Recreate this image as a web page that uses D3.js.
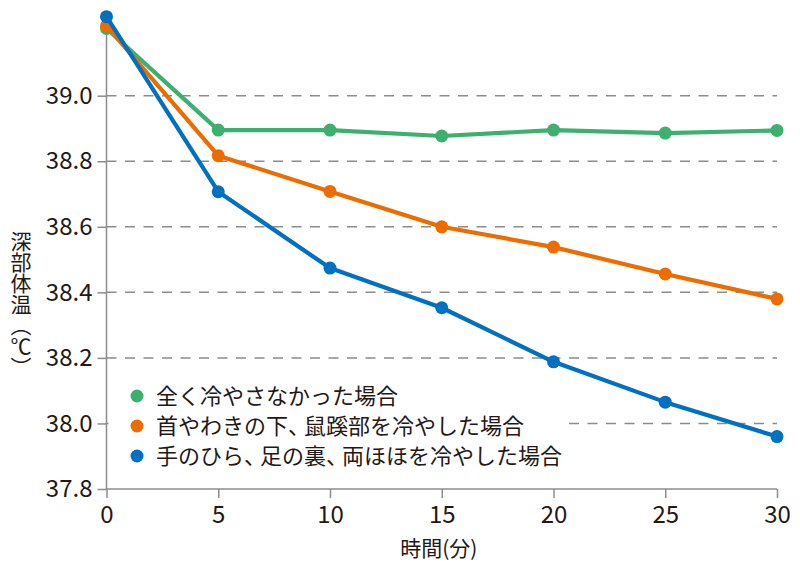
<!DOCTYPE html>
<html><head><meta charset="utf-8">
<script src="https://cdn.jsdelivr.net/npm/d3@7"></script>
<style>
html,body{margin:0;padding:0;background:#fff;}
svg{display:block;}
text{font-family:"Noto Sans CJK JP","Noto Sans",sans-serif;fill:#231815;}
</style></head>
<body><svg id="c" width="800" height="568"></svg>
<script>
const times = [0, 5, 10, 15, 20, 25, 30];
const seriesNames = ["全く冷やさなかった場合", "首やわきの下、鼠蹊部を冷やした場合", "手のひら、足の裏、両ほほを冷やした場合"];
const noCooling = [39.205, 38.895, 38.895, 38.877, 38.895, 38.886, 38.894];
const neckArmpitGroin = [39.213, 38.817, 38.708, 38.600, 38.538, 38.456, 38.380];
const palmsSolesCheeks = [39.241, 38.707, 38.474, 38.353, 38.188, 38.065, 37.960];
const colors = ["#3daf6e", "#ec6c00", "#0070c0"];
const yTicks = [37.8, 38.0, 38.2, 38.4, 38.6, 38.8, 39.0];
const xTicks = [0, 5, 10, 15, 20, 25, 30];
const xTitle = "時間(分)";
const yTitle = "深部体温（℃）";

const svg = d3.select("#c");
const x = d3.scaleLinear().domain([0, 30]).range([106.5, 777]);
const y = d3.scaleLinear().domain([37.8, 39.0]).range([489, 95.7]);
const axisColor = "#8c8c8c";

// gridlines
svg.append("g").selectAll("line").data(yTicks.filter(d => d > 37.8)).join("line")
  .attr("x1", x(0)).attr("x2", x(30))
  .attr("y1", d => y(d)).attr("y2", d => y(d))
  .attr("stroke", "#8c8c8c").attr("stroke-width", 1.5)
  .attr("stroke-dasharray", "10,8.5");

// legend background (covers gridline)
const lg = svg.append("g");
lg.append("rect").attr("x", x(0) + 2).attr("y", 378).attr("width", 458).attr("height", 92).attr("fill", "#fff");

// y axis
const yAxis = svg.append("g").attr("transform", `translate(${x(0)},0)`)
  .call(d3.axisLeft(y).tickValues(yTicks).tickFormat(d3.format(".1f")).tickSize(9).tickPadding(5));
yAxis.select(".domain").remove();
yAxis.append("line").attr("x1", 0).attr("x2", 0).attr("y1", y(37.8)).attr("y2", y(39.2)).attr("stroke", axisColor).attr("stroke-width", 1.5);
yAxis.selectAll(".tick line").attr("stroke", axisColor).attr("stroke-width", 1.5);
yAxis.selectAll(".tick text").attr("font-size", 24).attr("fill", "#231815")
  .attr("font-family", "'Noto Sans CJK JP', sans-serif").attr("font-weight", 400);

// x axis
const xAxis = svg.append("g").attr("transform", `translate(0,${y(37.8)})`)
  .call(d3.axisBottom(x).tickValues(xTicks).tickSize(9).tickPadding(8));
xAxis.select(".domain").remove();
xAxis.append("line").attr("x1", x(0)).attr("x2", x(30)).attr("y1", 0).attr("y2", 0).attr("stroke", axisColor).attr("stroke-width", 1.5);
xAxis.selectAll(".tick line").attr("stroke", axisColor).attr("stroke-width", 1.5);
xAxis.selectAll(".tick text").attr("font-size", 24).attr("fill", "#231815")
  .attr("font-family", "'Noto Sans CJK JP', sans-serif").attr("font-weight", 400);

// titles
svg.append("text").attr("x", (x(0) + x(30)) / 2 - 3).attr("y", 556).attr("text-anchor", "middle")
  .attr("font-size", 21).attr("font-weight", 400).text(xTitle);
svg.append("text").attr("x", 21).attr("y", 231)
  .style("writing-mode", "vertical-rl").style("text-orientation", "upright")
  .attr("font-size", 21).attr("font-weight", 400).text(yTitle);

// series
const all = [noCooling, neckArmpitGroin, palmsSolesCheeks];
const line = d3.line().x((d, i) => x(times[i])).y(d => y(d));
all.forEach((vals, k) => {
  const g = svg.append("g");
  g.append("path").attr("d", line(vals)).attr("fill", "none").attr("stroke", colors[k]).attr("stroke-width", 4.2).attr("stroke-linejoin", "round");
  g.selectAll("circle").data(vals).join("circle")
    .attr("cx", (d, i) => x(times[i])).attr("cy", d => y(d)).attr("r", 6.5).attr("fill", colors[k]);
});

// legend
const rowsY = [396, 426, 456];
seriesNames.forEach((n, k) => {
  lg.append("circle").attr("cx", 137).attr("cy", rowsY[k]).attr("r", 6.5).attr("fill", colors[k]);
  const t = lg.append("text").attr("x", 156).attr("y", rowsY[k]).attr("dy", "0.36em")
    .attr("font-size", 22).attr("font-weight", 400);
  const parts = n.split("、");
  parts.forEach((p, i) => {
    const s = t.append("tspan").text(p + (i < parts.length - 1 ? "、" : ""));
    if (i > 0) s.attr("dx", -6);
  });
});
</script></body></html>
